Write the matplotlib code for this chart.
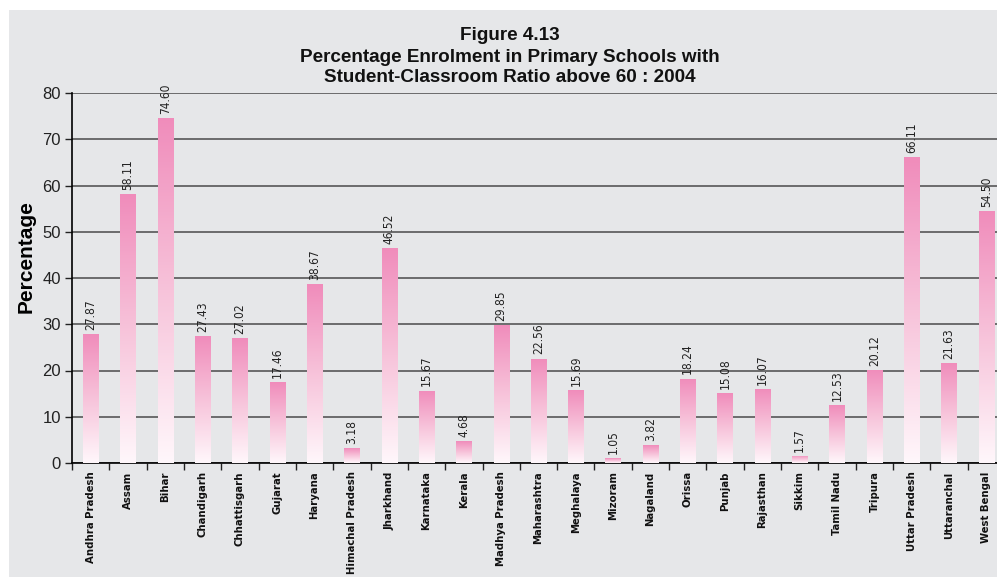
import os
import numpy as np
import matplotlib
matplotlib.use("Agg")
import matplotlib.pyplot as plt
from matplotlib.colors import LinearSegmentedColormap
from matplotlib import font_manager as fm
from matplotlib.patches import Rectangle

states = ["Andhra Pradesh", "Assam", "Bihar", "Chandigarh", "Chhattisgarh", "Gujarat",
          "Haryana", "Himachal Pradesh", "Jharkhand", "Karnataka", "Kerala",
          "Madhya Pradesh", "Maharashtra", "Meghalaya", "Mizoram", "Nagaland", "Orissa",
          "Punjab", "Rajasthan", "Sikkim", "Tamil Nadu", "Tripura", "Uttar Pradesh",
          "Uttaranchal", "West Bengal"]
values = [27.87, 58.11, 74.60, 27.43, 27.02, 17.46, 38.67, 3.18, 46.52, 15.67, 4.68,
          29.85, 22.56, 15.69, 1.05, 3.82, 18.24, 15.08, 16.07, 1.57, 12.53, 20.12,
          66.11, 21.63, 54.50]
value_labels = [f"{v:.2f}" for v in values]
yticks = [0, 10, 20, 30, 40, 50, 60, 70, 80]

BG = "#e6e7e9"
sans = ["Liberation Sans", "DejaVu Sans"]


def find_font(candidates):
    files = {os.path.basename(f.fname).lower(): f.fname for f in fm.fontManager.ttflist}
    for c in candidates:
        if c.lower() in files:
            return files[c.lower()]
    return None


narrow_bold_file = find_font(["LiberationSansNarrow-Bold.ttf", "DejaVuSansCondensed-Bold.ttf",
                              "RobotoCondensed-Bold.ttf", "OpenSans_Condensed-Bold.ttf"])
narrow_reg_file = find_font(["LiberationSansNarrow-Regular.ttf", "DejaVuSansCondensed.ttf",
                             "RobotoCondensed-Regular.ttf", "OpenSans_Condensed-Regular.ttf"])
if narrow_bold_file:
    xlab_fp = fm.FontProperties(fname=narrow_bold_file, size=8.1)
else:
    xlab_fp = fm.FontProperties(family=sans, weight="bold", size=8)
if narrow_reg_file:
    val_fp = fm.FontProperties(fname=narrow_reg_file, size=8.6)
else:
    val_fp = fm.FontProperties(family=sans, size=8.5)

fig = plt.figure(figsize=(9.97, 5.77), dpi=100, facecolor="white")
fig.patches.append(Rectangle((9 / 997, 0), 1, 1 - 10 / 577, transform=fig.transFigure,
                             facecolor=BG, edgecolor="none", zorder=-10))
ax = fig.add_axes([72 / 997, 1 - 463 / 577, (1005 - 72) / 997, (463 - 93) / 577])
ax.set_facecolor(BG)

x = np.arange(len(states))
bars = ax.bar(x, values, width=0.41, color="none", edgecolor="none", zorder=3)

cmap = LinearSegmentedColormap.from_list("pinkgrad", ["#fff7fb", "#f7c3da", "#f08cbb"])
grad = np.linspace(0, 1, 256).reshape(-1, 1)
for b in bars:
    x0, w, h = b.get_x(), b.get_width(), b.get_height()
    im = ax.imshow(grad, cmap=cmap, aspect="auto", origin="lower",
                   extent=(x0, x0 + w, 0, h), zorder=3, interpolation="bilinear")
    im.set_clip_path(b)

for xi, v, lab in zip(x, values, value_labels):
    ax.annotate(lab, (xi, v), xytext=(0, 3), textcoords="offset points",
                rotation=90, ha="center", va="bottom", fontproperties=val_fp,
                color="#222222", zorder=4)

ax.set_xlim(-0.5, len(states) - 0.5)
ax.set_ylim(0, 80)
ax.set_yticks(yticks)
ax.set_yticklabels([str(t) for t in yticks], fontsize=12, family=sans, color="#222222")
ax.yaxis.grid(True, color="#4a4a4a", linewidth=1.1, zorder=1)
ax.set_axisbelow(True)

ax.set_xticks(np.arange(-0.5, len(states), 1.0))
ax.set_xticklabels([])
ax.tick_params(axis="x", which="major", length=5, width=1, direction="out", color="#222222")
ax.set_xticks(x, minor=True)
ax.set_xticklabels(states, minor=True, rotation=90, fontproperties=xlab_fp, color="#111111")
ax.tick_params(axis="x", which="minor", length=0, pad=6)
ax.tick_params(axis="y", length=5, width=1, direction="out", color="#222222", pad=3)

for s in ["top", "right"]:
    ax.spines[s].set_visible(False)
ax.spines["left"].set_linewidth(1.2)
ax.spines["bottom"].set_linewidth(1.2)

fig.text(26 / 997, 1 - 257 / 577, "Percentage", rotation=90, ha="center", va="center",
         fontsize=15, fontweight="bold", family=sans)

for ty, line in [(35, "Figure 4.13"),
                 (57, "Percentage Enrolment in Primary Schools with"),
                 (78, "Student-Classroom Ratio above 60 : 2004")]:
    fig.text(510 / 997, 1 - ty / 577, line, ha="center", va="center",
             fontsize=13.6, fontweight="bold", family=sans, color="#111111")

fig.savefig("out.png", dpi=100, facecolor="white")
